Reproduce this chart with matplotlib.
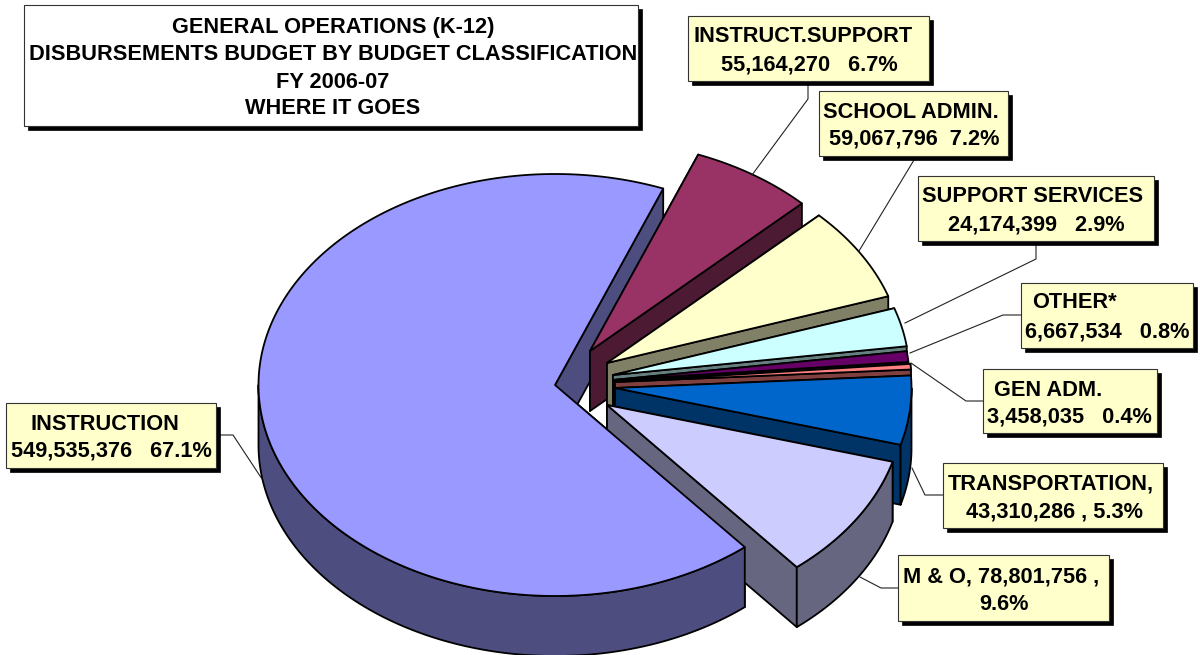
import numpy as np
import matplotlib
matplotlib.use("Agg")
import matplotlib.pyplot as plt
from matplotlib.patches import Polygon, Rectangle

plt.rcParams['font.family'] = ['Liberation Sans', 'DejaVu Sans']

# ---- data (clockwise from the INSTRUCTION slice) ----
categories = ["INSTRUCTION", "INSTRUCT.SUPPORT", "SCHOOL ADMIN.", "SUPPORT SERVICES",
              "OTHER*", "GEN ADM.", "TRANSPORTATION", "M & O"]
values = [549535376, 55164270, 59067796, 24174399, 6667534, 3458035, 43310286, 78801756]
percents = [67.1, 6.7, 7.2, 2.9, 0.8, 0.4, 5.3, 9.6]
title_lines = ["GENERAL OPERATIONS (K-12)",
               "DISBURSEMENTS BUDGET BY BUDGET CLASSIFICATION",
               "FY 2006-07", "WHERE IT GOES"]

# ---- styles ----
top_colors = ["#9999FF", "#993366", "#FFFFCC", "#CCFFFF", "#660066", "#FF8080", "#0066CC", "#CCCCFF"]
side_colors = ["#4D4D80", "#4D1A33", "#808066", "#668080", "#330033", "#804040", "#003366", "#666680"]
explode_dx = [-53, -18, -1, 5, 5, 7, 7, -1]
explode_dy = [5, -29, -17, -5, 0, 2, 8, 25]
CX, CY = 608, 380
A, B = 296.5, 211
DEPTH = 60
START = 140.2
LW = 1.8 * 72 / 100
LABEL_FS = 15.7
TITLE_FS = 15.7
CAP = 7.5

fig = plt.figure(figsize=(12, 6.55), dpi=100)
ax = fig.add_axes([0, 0, 1, 1])
ax.set_xlim(0, 1200)
ax.set_ylim(655, 0)
ax.axis("off")

sweeps = 360 * np.array(values) / np.sum(values)
starts = START + np.concatenate([[0], np.cumsum(sweeps)[:-1]])
starts = np.where(starts >= 360, starts - 360, starts)


def arc(px, py, t0, t1):
    t = np.radians(np.linspace(t0, t1, max(3, int(abs(t1 - t0) * 2))))
    return np.column_stack([px + A * np.sin(t), py - B * np.cos(t)])


def poly(pts, color, z):
    ax.add_patch(Polygon(pts, closed=True, facecolor=color, edgecolor="black",
                         linewidth=LW, joinstyle="round", zorder=z))


def radial_walls(i, z):
    px, py = CX + explode_dx[i], CY + explode_dy[i]
    apex = np.array([px, py])
    down = np.array([0, DEPTH])
    for t in (starts[i], starts[i] + sweeps[i]):
        e = arc(px, py, t, t + 0.01)[0]
        poly([apex, e, e + down, apex + down], side_colors[i], z)


def rim_and_top(i, z):
    px, py = CX + explode_dx[i], CY + explode_dy[i]
    t0, t1 = starts[i], starts[i] + sweeps[i]
    down = np.array([0, DEPTH])
    lo, hi = max(t0, 90), min(t1, 270)
    if hi > lo:
        rim = arc(px, py, lo, hi)
        poly(np.vstack([rim, (rim + down)[::-1]]), side_colors[i], z)
    poly(np.vstack([[[px, py]], arc(px, py, t0, t1)]), top_colors[i], z)


# the big slice's radial walls go first, its rim and top last
radial_walls(0, 1)
z = 2
for i in range(1, len(values)):
    radial_walls(i, z)
    rim_and_top(i, z)
    z += 1
rim_and_top(0, z)

# ---- leader lines ----
leaders = [
    [(220, 435), (233, 435), (262, 479)],
    [(808, 81), (808, 99), (752, 175)],
    [(914, 156), (914, 160), (859, 251)],
    [(1036, 241), (1036, 259), (905, 323)],
    [(1021, 315), (1003, 315), (910, 353)],
    [(983, 401), (966, 401), (911, 363)],
    [(943, 495), (925, 495), (912, 468)],
    [(898, 588), (881, 588), (860, 577)],
]
for pts in leaders:
    xs, ys = zip(*pts)
    ax.plot(xs, ys, color="#222222", lw=0.8, zorder=15)

# ---- label boxes: (x0, y0, x1, y1) and two centred lines ----
labels = [
    ((6, 403, 216, 468), "INSTRUCTION", 105, 422, "549,535,376   67.1%", 111, 449),
    ((688, 16, 929, 81), "INSTRUCT.SUPPORT", 803, 34, "55,164,270   6.7%", 809, 63),
    ((819, 91, 1008, 156), "SCHOOL ADMIN.", 911, 110, "59,067,796  7.2%", 914, 137),
    ((918, 176, 1154, 241), "SUPPORT SERVICES", 1033, 194, "24,174,399   2.9%", 1036, 223),
    ((1021, 283, 1193, 348), "OTHER*", 1074, 301, "6,667,534   0.8%", 1107, 330),
    ((983, 369, 1157, 433), "GEN ADM.", 1048, 388, "3,458,035   0.4%", 1069, 415),
    ((943, 463, 1163, 528), "TRANSPORTATION,", 1051, 482, "43,310,286 , 5.3%", 1054, 510),
    ((898, 555, 1109, 621), "M & O, 78,801,756 ,", 1001, 575, "9.6%", 1004, 603),
]
for (x0, y0, x1, y1), l1, x_1, y_1, l2, x_2, y_2 in labels:
    ax.add_patch(Rectangle((x0 + 4, y0 + 4), x1 - x0, y1 - y0, fc="black", ec="black", lw=0.5, zorder=20))
    ax.add_patch(Rectangle((x0, y0), x1 - x0, y1 - y0, fc="#FFFFCC", ec="#333333", lw=0.8, zorder=21))
    ax.text(x_1, y_1 + CAP, l1, ha="center", va="baseline", fontsize=LABEL_FS, fontweight="bold", zorder=22)
    ax.text(x_2, y_2 + CAP, l2, ha="center", va="baseline", fontsize=LABEL_FS, fontweight="bold", zorder=22)

# ---- title box ----
ax.add_patch(Rectangle((28, 9), 614, 121, fc="black", ec="black", lw=0.5, zorder=20))
ax.add_patch(Rectangle((24, 5), 614, 121, fc="white", ec="#333333", lw=0.8, zorder=21))
for line, y in zip(title_lines, [25, 52, 80, 107]):
    ax.text(333, y + CAP, line, ha="center", va="baseline", fontsize=TITLE_FS, fontweight="bold", zorder=22)

fig.savefig("out.png", dpi=100)
